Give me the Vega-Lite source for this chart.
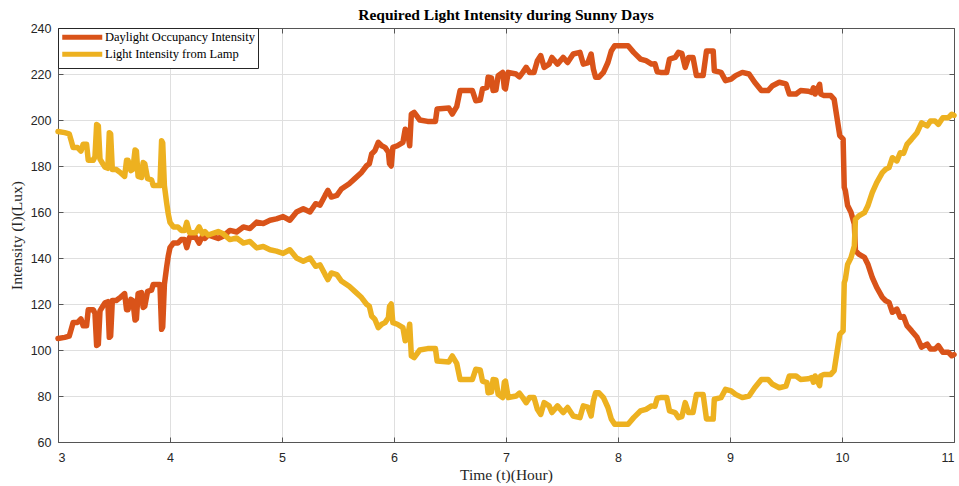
{
  "$schema": "https://vega.github.io/schema/vega-lite/v6.json",
  "width": 896,
  "height": 414,
  "autosize": {"type": "none"},
  "padding": {"left": 58, "top": 28, "right": 5, "bottom": 44},
  "background": "#ffffff",
  "title": {"text": "Required Light Intensity during Sunny Days", "font": "Liberation Serif", "fontSize": 15.5, "fontWeight": "bold", "color": "#000000", "offset": -1},
  "config": {"view": {"stroke": null}},
  "data": {"values": [
    {"t":3.000,"d":105,"l":195},{"t":3.060,"d":105.5,"l":194.5},{"t":3.100,"d":106,"l":194},{"t":3.115,"d":108.5,"l":191.5},
    {"t":3.135,"d":112,"l":188},{"t":3.175,"d":112,"l":188},{"t":3.205,"d":113.5,"l":186.5},{"t":3.225,"d":110.5,"l":189.5},
    {"t":3.255,"d":110.5,"l":189.5},{"t":3.270,"d":117.5,"l":182.5},{"t":3.315,"d":117.5,"l":182.5},{"t":3.330,"d":116,"l":184},
    {"t":3.345,"d":102,"l":198},{"t":3.360,"d":102.5,"l":197.5},{"t":3.375,"d":117,"l":183},{"t":3.400,"d":119,"l":181},
    {"t":3.420,"d":120.5,"l":179.5},{"t":3.445,"d":121,"l":179},{"t":3.458,"d":105.5,"l":194.5},{"t":3.470,"d":106,"l":194},
    {"t":3.485,"d":121.5,"l":178.5},{"t":3.520,"d":121.5,"l":178.5},{"t":3.560,"d":123,"l":177},{"t":3.595,"d":124.5,"l":175.5},
    {"t":3.612,"d":117.5,"l":182.5},{"t":3.625,"d":117.5,"l":182.5},{"t":3.650,"d":122,"l":178},{"t":3.668,"d":121.5,"l":178.5},
    {"t":3.688,"d":113,"l":187},{"t":3.700,"d":113.5,"l":186.5},{"t":3.715,"d":124.5,"l":175.5},{"t":3.745,"d":125,"l":175},
    {"t":3.760,"d":118.5,"l":181.5},{"t":3.775,"d":119,"l":181},{"t":3.800,"d":125.5,"l":174.5},{"t":3.835,"d":126,"l":174},
    {"t":3.850,"d":128.5,"l":171.5},{"t":3.910,"d":128.5,"l":171.5},{"t":3.925,"d":109,"l":191},{"t":3.935,"d":110,"l":190},
    {"t":3.950,"d":128.5,"l":171.5},{"t":3.970,"d":136,"l":164},{"t":3.985,"d":141,"l":159},{"t":4.000,"d":144.5,"l":155.5},
    {"t":4.030,"d":146.5,"l":153.5},{"t":4.070,"d":146.5,"l":153.5},{"t":4.100,"d":148,"l":152},{"t":4.130,"d":148,"l":152},
    {"t":4.150,"d":144.5,"l":155.5},{"t":4.175,"d":149,"l":151},{"t":4.230,"d":149,"l":151},{"t":4.260,"d":146.5,"l":153.5},
    {"t":4.290,"d":149.5,"l":150.5},{"t":4.312,"d":148.5,"l":151.5},{"t":4.340,"d":150,"l":150},{"t":4.430,"d":148.5,"l":151.5},
    {"t":4.475,"d":149.5,"l":150.5},{"t":4.535,"d":152,"l":148},{"t":4.595,"d":151.3,"l":148.7},{"t":4.655,"d":153.5,"l":146.5},
    {"t":4.714,"d":152.8,"l":147.2},{"t":4.774,"d":155.6,"l":144.4},{"t":4.833,"d":155,"l":145},{"t":4.893,"d":156.4,"l":143.6},
    {"t":4.950,"d":157,"l":143},{"t":5.010,"d":158,"l":142},{"t":5.070,"d":156.4,"l":143.6},{"t":5.130,"d":160,"l":140},
    {"t":5.190,"d":161.4,"l":138.6},{"t":5.250,"d":160,"l":140},{"t":5.300,"d":163.6,"l":136.4},{"t":5.340,"d":163,"l":137},
    {"t":5.385,"d":167.2,"l":132.8},{"t":5.410,"d":169.4,"l":130.6},{"t":5.440,"d":166.5,"l":133.5},{"t":5.490,"d":167.2,"l":132.8},
    {"t":5.530,"d":170,"l":130},{"t":5.600,"d":172.3,"l":127.7},{"t":5.650,"d":174.5,"l":125.5},{"t":5.710,"d":177.2,"l":122.8},
    {"t":5.755,"d":180.1,"l":119.9},{"t":5.780,"d":181,"l":119},{"t":5.800,"d":185.2,"l":114.8},{"t":5.830,"d":186.7,"l":113.3},
    {"t":5.860,"d":190.3,"l":109.7},{"t":5.890,"d":188.8,"l":111.2},{"t":5.920,"d":188.1,"l":111.9},{"t":5.950,"d":186,"l":114},
    {"t":5.960,"d":181,"l":119},{"t":5.975,"d":180,"l":120},{"t":5.990,"d":188.1,"l":111.9},{"t":6.030,"d":188.8,"l":111.2},
    {"t":6.080,"d":190.3,"l":109.7},{"t":6.100,"d":196,"l":104},{"t":6.120,"d":195,"l":105},{"t":6.140,"d":188.8,"l":111.2},
    {"t":6.155,"d":202.6,"l":97.4},{"t":6.180,"d":203.3,"l":96.7},{"t":6.230,"d":200,"l":100},{"t":6.300,"d":199.4,"l":100.6},
    {"t":6.370,"d":199.4,"l":100.6},{"t":6.385,"d":204.8,"l":95.2},{"t":6.490,"d":205.2,"l":94.8},{"t":6.520,"d":202.6,"l":97.4},
    {"t":6.560,"d":205.8,"l":94.2},{"t":6.590,"d":212.8,"l":87.2},{"t":6.700,"d":212.8,"l":87.2},{"t":6.730,"d":208.4,"l":91.6},
    {"t":6.770,"d":208.7,"l":91.3},{"t":6.790,"d":213.5,"l":86.5},{"t":6.830,"d":214.2,"l":85.8},{"t":6.840,"d":218.6,"l":81.4},
    {"t":6.870,"d":218.3,"l":81.7},{"t":6.885,"d":212.8,"l":87.2},{"t":6.910,"d":213,"l":87},{"t":6.930,"d":219.3,"l":80.7},
    {"t":6.970,"d":220.7,"l":79.3},{"t":6.985,"d":214,"l":86},{"t":6.995,"d":213.5,"l":86.5},{"t":7.020,"d":220.7,"l":79.3},
    {"t":7.090,"d":220,"l":80},{"t":7.120,"d":218.8,"l":81.2},{"t":7.150,"d":220.7,"l":79.3},{"t":7.180,"d":222.9,"l":77.1},
    {"t":7.210,"d":220.7,"l":79.3},{"t":7.250,"d":220.7,"l":79.3},{"t":7.280,"d":225.8,"l":74.2},{"t":7.310,"d":228,"l":72},
    {"t":7.340,"d":222.9,"l":77.1},{"t":7.385,"d":224.3,"l":75.7},{"t":7.410,"d":227.2,"l":72.8},{"t":7.460,"d":224.3,"l":75.7},
    {"t":7.510,"d":227.2,"l":72.8},{"t":7.550,"d":225,"l":75},{"t":7.600,"d":228.7,"l":71.3},{"t":7.660,"d":229.4,"l":70.6},
    {"t":7.690,"d":224.3,"l":75.7},{"t":7.730,"d":224.8,"l":75.2},{"t":7.760,"d":228.7,"l":71.3},{"t":7.780,"d":222.2,"l":77.8},
    {"t":7.800,"d":218.6,"l":81.4},{"t":7.830,"d":218.6,"l":81.4},{"t":7.870,"d":220.7,"l":79.3},{"t":7.910,"d":225,"l":75},
    {"t":7.940,"d":230,"l":70},{"t":7.970,"d":232.3,"l":67.7},{"t":8.090,"d":232.3,"l":67.7},{"t":8.140,"d":229.4,"l":70.6},
    {"t":8.200,"d":226.5,"l":73.5},{"t":8.250,"d":225.8,"l":74.2},{"t":8.300,"d":224.3,"l":75.7},{"t":8.330,"d":224.5,"l":75.5},
    {"t":8.350,"d":221,"l":79},{"t":8.380,"d":220.7,"l":79.3},{"t":8.435,"d":220.7,"l":79.3},{"t":8.460,"d":226.5,"l":73.5},
    {"t":8.510,"d":227.2,"l":72.8},{"t":8.540,"d":229.4,"l":70.6},{"t":8.570,"d":229,"l":71},{"t":8.600,"d":222.9,"l":77.1},
    {"t":8.630,"d":227.2,"l":72.8},{"t":8.670,"d":227.2,"l":72.8},{"t":8.700,"d":219.3,"l":80.7},{"t":8.760,"d":219.3,"l":80.7},
    {"t":8.790,"d":230,"l":70},{"t":8.850,"d":230,"l":70},{"t":8.860,"d":221.4,"l":78.6},{"t":8.920,"d":220.7,"l":79.3},
    {"t":8.960,"d":217.1,"l":82.9},{"t":9.010,"d":217.8,"l":82.2},{"t":9.050,"d":219.3,"l":80.7},{"t":9.110,"d":220.7,"l":79.3},
    {"t":9.170,"d":220,"l":80},{"t":9.220,"d":216.4,"l":83.6},{"t":9.280,"d":212.8,"l":87.2},{"t":9.340,"d":212.8,"l":87.2},
    {"t":9.380,"d":214.9,"l":85.1},{"t":9.440,"d":216.4,"l":83.6},{"t":9.500,"d":215.7,"l":84.3},{"t":9.530,"d":211.3,"l":88.7},
    {"t":9.590,"d":211.3,"l":88.7},{"t":9.630,"d":212.8,"l":87.2},{"t":9.700,"d":212.5,"l":87.5},{"t":9.730,"d":212,"l":88},
    {"t":9.745,"d":214,"l":86},{"t":9.760,"d":211.3,"l":88.7},{"t":9.800,"d":215.5,"l":84.5},{"t":9.810,"d":211.3,"l":88.7},
    {"t":9.840,"d":210.6,"l":89.4},{"t":9.900,"d":210.6,"l":89.4},{"t":9.930,"d":209,"l":91},{"t":9.950,"d":202.6,"l":97.4},
    {"t":9.980,"d":193.2,"l":106.8},{"t":10.010,"d":191.7,"l":108.3},{"t":10.020,"d":170.7,"l":129.3},{"t":10.030,"d":169.3,"l":130.7},
    {"t":10.050,"d":162.8,"l":137.2},{"t":10.080,"d":159.9,"l":140.1},{"t":10.110,"d":154.8,"l":145.2},{"t":10.120,"d":143.2,"l":156.8},
    {"t":10.150,"d":141.7,"l":158.3},{"t":10.200,"d":140.3,"l":159.7},{"t":10.230,"d":137.4,"l":162.6},{"t":10.270,"d":131.6,"l":168.4},
    {"t":10.310,"d":127.2,"l":172.8},{"t":10.360,"d":122.9,"l":177.1},{"t":10.390,"d":121.4,"l":178.6},{"t":10.420,"d":120.7,"l":179.3},
    {"t":10.450,"d":116.4,"l":183.6},{"t":10.490,"d":117.8,"l":182.2},{"t":10.520,"d":114.2,"l":185.8},{"t":10.550,"d":114.5,"l":185.5},
    {"t":10.580,"d":110.6,"l":189.4},{"t":10.620,"d":108.4,"l":191.6},{"t":10.670,"d":105.5,"l":194.5},{"t":10.710,"d":101.2,"l":198.8},
    {"t":10.760,"d":102.6,"l":197.4},{"t":10.790,"d":100.4,"l":199.6},{"t":10.830,"d":100.4,"l":199.6},{"t":10.860,"d":101.9,"l":198.1},
    {"t":10.900,"d":99,"l":201},{"t":10.950,"d":99,"l":201},{"t":10.980,"d":97.5,"l":202.5},{"t":11.000,"d":98,"l":202}
  ]},
  "resolve": {"axis": {"x": "independent", "y": "independent"}},
  "layer": [
    {
      "mark": {"type": "line", "strokeWidth": 5.5, "strokeJoin": "round", "strokeCap": "round"},
      "encoding": {
        "x": {"field": "t", "type": "quantitative",
          "scale": {"domain": [3, 11], "nice": false, "zero": false},
          "axis": {"orient": "bottom", "values": [3,4,5,6,7,8,9,10,11], "format": "d", "grid": true, "gridColor": "#dfdfdf", "gridWidth": 1,
            "domainColor": "#555555", "domainWidth": 1, "tickColor": "#555555", "tickSize": -5, "labelPadding": 14,
            "labelFont": "Liberation Sans", "labelFontSize": 12.5, "labelColor": "#262626",
            "title": "Time (t)(Hour)", "titleFont": "Liberation Serif", "titleFontSize": 15.5, "titleFontWeight": "normal", "titleColor": "#262626", "titlePadding": 4}},
        "y": {"field": "d", "type": "quantitative",
          "scale": {"domain": [60, 240], "nice": false, "zero": false},
          "axis": {"orient": "left", "values": [60,80,100,120,140,160,180,200,220,240], "grid": true, "gridColor": "#dfdfdf", "gridWidth": 1,
            "domainColor": "#555555", "domainWidth": 1, "tickColor": "#555555", "tickSize": -5, "labelPadding": 12,
            "labelFont": "Liberation Sans", "labelFontSize": 12.5, "labelColor": "#262626",
            "title": "Intensity (I)(Lux)", "titleFont": "Liberation Serif", "titleFontSize": 15.5, "titleFontWeight": "normal", "titleColor": "#262626", "titlePadding": 6}},
        "color": {"datum": "Daylight Occupancy Intensity", "type": "nominal",
          "scale": {"domain": ["Daylight Occupancy Intensity", "Light Intensity from Lamp"], "range": ["#D95319", "#EDB120"]},
          "legend": {"orient": "top-left", "offset": 0, "title": null, "symbolType": "M-2,0H14", "symbolSize": 25, "symbolStrokeWidth": 5,
            "labelFont": "Liberation Serif", "labelFontSize": 12.5, "labelColor": "#000000", "strokeColor": "#262626", "fillColor": "#ffffff",
            "padding": 3, "rowPadding": -7.5, "labelOffset": 31.5}}
      }
    },
    {
      "mark": {"type": "line", "strokeWidth": 5.5, "strokeJoin": "round", "strokeCap": "round"},
      "encoding": {
        "x": {"field": "t", "type": "quantitative",
          "axis": {"orient": "top", "values": [3,4,5,6,7,8,9,10,11], "grid": false, "labels": false, "title": null,
            "domainColor": "#555555", "domainWidth": 1, "tickColor": "#555555", "tickSize": -5}},
        "y": {"field": "l", "type": "quantitative",
          "axis": {"orient": "right", "values": [60,80,100,120,140,160,180,200,220,240], "grid": false, "labels": false, "title": null,
            "domainColor": "#555555", "domainWidth": 1, "tickColor": "#555555", "tickSize": -5}},
        "color": {"datum": "Light Intensity from Lamp", "type": "nominal"}
      }
    }
  ]
}
